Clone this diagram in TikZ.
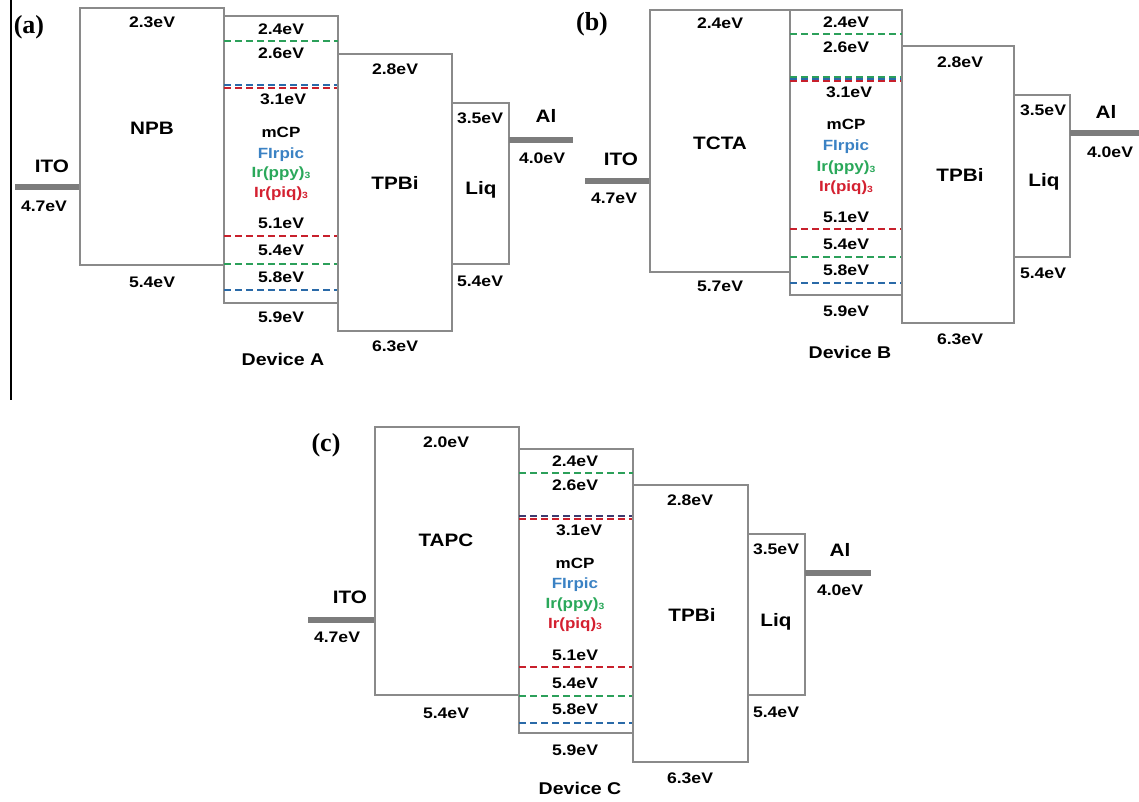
\documentclass[tikz,border=0pt]{standalone}
\usepackage{fontspec}
\newfontfamily\labfont{Liberation Sans}[FakeStretch=1.15]
\newfontfamily\serfont{Liberation Serif}
\definecolor{boxgray}{HTML}{8A8A8A}
\definecolor{bargray}{HTML}{7C7C7C}
\definecolor{lvgreen}{HTML}{2CA05A}
\definecolor{lvblue}{HTML}{2A6AA8}
\definecolor{lvred}{HTML}{C8202C}
\definecolor{lvnavy}{HTML}{3B3B70}
\definecolor{txblue}{HTML}{3B82C4}
\definecolor{txgreen}{HTML}{2AA85A}
\definecolor{txred}{HTML}{D42030}
\newcommand{\sub}[1]{{\fontsize{9}{9}\selectfont\raisebox{-1pt}{#1}}}
\begin{document}
\begin{tikzpicture}[x=1pt,y=-1pt,
  ev/.style={font=\labfont\bfseries\fontsize{15.3}{17}\selectfont, anchor=base, yshift=-5.5pt, inner sep=0pt},
  big/.style={font=\labfont\bfseries\fontsize{18}{20}\selectfont, anchor=base, yshift=-6.4pt, inner sep=0pt},
  mat/.style={font=\labfont\bfseries\fontsize{14.8}{16}\selectfont, anchor=base, yshift=-5.3pt, inner sep=0pt},
  dev/.style={font=\labfont\bfseries\fontsize{17}{19}\selectfont, anchor=base, yshift=-6pt, inner sep=0pt},
  panel/.style={font=\serfont\bfseries\fontsize{26}{28}\selectfont, anchor=base, yshift=-8.5pt, inner sep=0pt},
  layer/.style={draw=boxgray, line width=2.2pt},
  bar/.style={draw=bargray, line width=6pt},
  lvl/.style={line width=2pt, dash pattern=on 7pt off 4pt}]
\useasboundingbox (0,0) rectangle (1139,801);
\fill[white] (0,0) rectangle (1139,801);

% ================= panel (a) =================
\draw[black, line width=1.2pt] (11,0) -- (11,400);
\node[panel] (pa) at (29,25) {(a)};
\draw[bar] (15,187) -- (80,187);
\node[big] (itoA) at (52,166) {ITO};
\node[ev] (itoAv) at (44,206) {4.7eV};
\draw[layer] (80,8) rectangle (224,265);
\node[ev] (npbL) at (152,22) {2.3eV};
\node[big] (npb) at (152,128) {NPB};
\node[ev] (npbH) at (152,282) {5.4eV};
\draw[layer] (224,16) rectangle (338,303);
\draw[lvl, lvgreen] (224,41) -- (338,41);
\draw[lvl, lvblue] (224,85) -- (338,85);
\draw[lvl, lvred] (224,87.5) -- (338,87.5);
\draw[lvl, lvred] (224,236) -- (338,236);
\draw[lvl, lvgreen] (224,264) -- (338,264);
\draw[lvl, lvblue] (224,290) -- (338,290);
\node[ev] (mA1) at (281,29) {2.4eV};
\node[ev] (mA2) at (281,53) {2.6eV};
\node[ev] (mA3) at (283,99) {3.1eV};
\node[mat] (mA4) at (281,132) {mCP};
\node[mat, text=txblue] (mA5) at (281,153) {FIrpic};
\node[mat, text=txgreen] (mA6) at (281,172) {Ir(ppy)\sub{3}};
\node[mat, text=txred] (mA7) at (281,192) {Ir(piq)\sub{3}};
\node[ev] (mA8) at (281,223) {5.1eV};
\node[ev] (mA9) at (281,250) {5.4eV};
\node[ev] (mA10) at (281,277) {5.8eV};
\node[ev] (mA11) at (281,317) {5.9eV};
\node[dev] (devA) at (283,359) {Device A};
\draw[layer] (338,54) rectangle (452,331);
\node[ev] (tA1) at (395,69) {2.8eV};
\node[big] (tA2) at (395,183) {TPBi};
\node[ev] (tA3) at (395,346) {6.3eV};
\draw[layer] (452,103) rectangle (509,264);
\node[ev] (lA1) at (480,118) {3.5eV};
\node[big] (lA2) at (481,188) {Liq};
\node[ev] (lA3) at (480,281) {5.4eV};
\draw[bar] (509,140) -- (573,140);
\node[big] (alA) at (546,116) {Al};
\node[ev] (alAv) at (542,158) {4.0eV};

% ================= panel (b) =================
\node[panel] (pb) at (592,22) {(b)};
\draw[bar] (585,181) -- (650,181);
\node[big] (itoB) at (621,159) {ITO};
\node[ev] (itoBv) at (614,198) {4.7eV};
\draw[layer] (650,10) rectangle (790,272);
\node[ev] (tcL) at (720,23) {2.4eV};
\node[big] (tc) at (720,143) {TCTA};
\node[ev] (tcH) at (720,286) {5.7eV};
\draw[layer] (790,10) rectangle (902,295);
\draw[lvl, lvgreen] (790,34) -- (902,34);
\draw[lvl, lvgreen] (790,77) -- (902,77);
\draw[lvl, lvblue] (790,79.2) -- (902,79.2);
\draw[lvl, lvred] (790,81.4) -- (902,81.4);
\draw[lvl, lvred] (790,229) -- (902,229);
\draw[lvl, lvgreen] (790,257) -- (902,257);
\draw[lvl, lvblue] (790,283) -- (902,283);
\node[ev] (mB1) at (846,22) {2.4eV};
\node[ev] (mB2) at (846,47) {2.6eV};
\node[ev] (mB3) at (849,92) {3.1eV};
\node[mat] (mB4) at (846,124) {mCP};
\node[mat, text=txblue] (mB5) at (846,145) {FIrpic};
\node[mat, text=txgreen] (mB6) at (846,166) {Ir(ppy)\sub{3}};
\node[mat, text=txred] (mB7) at (846,186) {Ir(piq)\sub{3}};
\node[ev] (mB8) at (846,217) {5.1eV};
\node[ev] (mB9) at (846,244) {5.4eV};
\node[ev] (mB10) at (846,270) {5.8eV};
\node[ev] (mB11) at (846,311) {5.9eV};
\node[dev] (devB) at (850,352) {Device B};
\draw[layer] (902,46) rectangle (1014,323);
\node[ev] (tB1) at (960,62) {2.8eV};
\node[big] (tB2) at (960,175) {TPBi};
\node[ev] (tB3) at (960,339) {6.3eV};
\draw[layer] (1014,95) rectangle (1070,257);
\node[ev] (lB1) at (1043,110) {3.5eV};
\node[big] (lB2) at (1044,180) {Liq};
\node[ev] (lB3) at (1043,273) {5.4eV};
\draw[bar] (1070,133) -- (1139,133);
\node[big] (alB) at (1106,112) {Al};
\node[ev] (alBv) at (1110,152) {4.0eV};

% ================= panel (c) =================
\node[panel] (pc) at (326,443) {(c)};
\draw[bar] (308,620) -- (375,620);
\node[big] (itoC) at (350,597) {ITO};
\node[ev] (itoCv) at (337,637) {4.7eV};
\draw[layer] (375,427) rectangle (519,695);
\node[ev] (taL) at (446,442) {2.0eV};
\node[big] (ta) at (446,540) {TAPC};
\node[ev] (taH) at (446,713) {5.4eV};
\draw[layer] (519,449) rectangle (633,733);
\draw[lvl, lvgreen] (519,473) -- (633,473);
\draw[lvl, lvnavy] (519,516) -- (633,516);
\draw[lvl, lvred] (519,518.5) -- (633,518.5);
\draw[lvl, lvred] (519,667) -- (633,667);
\draw[lvl, lvgreen] (519,696) -- (633,696);
\draw[lvl, lvblue] (519,723) -- (633,723);
\node[ev] (mC1) at (575,461) {2.4eV};
\node[ev] (mC2) at (575,485) {2.6eV};
\node[ev] (mC3) at (579,530) {3.1eV};
\node[mat] (mC4) at (575,563) {mCP};
\node[mat, text=txblue] (mC5) at (575,583) {FIrpic};
\node[mat, text=txgreen] (mC6) at (575,603) {Ir(ppy)\sub{3}};
\node[mat, text=txred] (mC7) at (575,623) {Ir(piq)\sub{3}};
\node[ev] (mC8) at (575,655) {5.1eV};
\node[ev] (mC9) at (575,683) {5.4eV};
\node[ev] (mC10) at (575,709) {5.8eV};
\node[ev] (mC11) at (575,750) {5.9eV};
\node[dev] (devC) at (580,788) {Device C};
\draw[layer] (633,485) rectangle (748,762);
\node[ev] (tC1) at (690,500) {2.8eV};
\node[big] (tC2) at (692,615) {TPBi};
\node[ev] (tC3) at (690,778) {6.3eV};
\draw[layer] (748,534) rectangle (805,695);
\node[ev] (lC1) at (776,549) {3.5eV};
\node[big] (lC2) at (776,620) {Liq};
\node[ev] (lC3) at (776,712) {5.4eV};
\draw[bar] (805,573) -- (871,573);
\node[big] (alC) at (840,550) {Al};
\node[ev] (alCv) at (840,590) {4.0eV};
\end{tikzpicture}
\end{document}
